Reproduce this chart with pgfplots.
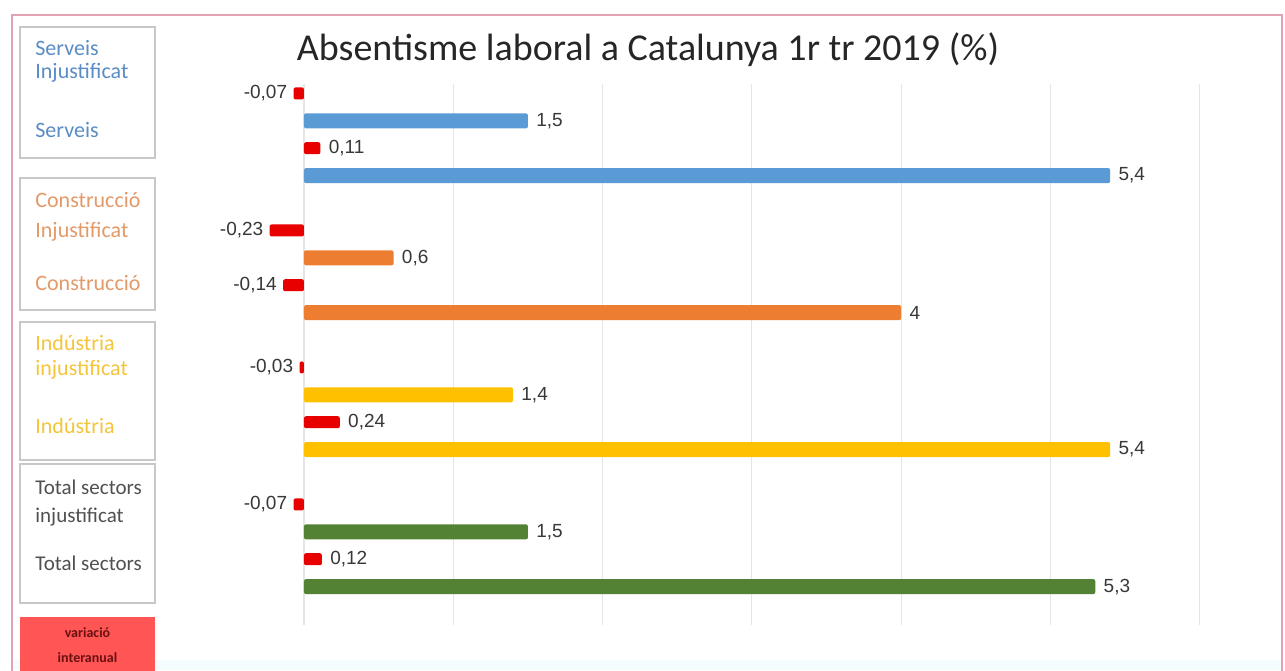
\documentclass[border=0pt]{standalone}
\usepackage{pgfplots}
\pgfplotsset{compat=1.18}
\usepackage{fontspec}
\setmainfont{Carlito}
\newfontfamily\labfont{Liberation Sans}
\definecolor{cblue}{HTML}{5B9BD5}
\definecolor{corange}{HTML}{ED7D31}
\definecolor{cyellow}{HTML}{FFC000}
\definecolor{cgreen}{HTML}{548235}
\definecolor{cred}{HTML}{E80000}
\definecolor{tblue}{HTML}{5A8CC6}
\definecolor{torange}{HTML}{E49A68}
\definecolor{tyellow}{HTML}{F4C53A}
\definecolor{tgrey}{HTML}{505050}
\definecolor{bpink}{HTML}{E3A3B2}
\definecolor{boxgrey}{HTML}{C8C8C8}
\definecolor{redbox}{HTML}{FF5555}
\definecolor{redtext}{HTML}{6A1010}
\begin{document}
\begin{tikzpicture}[x=1pt,y=1pt]
\useasboundingbox (0,0) rectangle (642.5,335);
\fill[white] (0,0) rectangle (642.5,335);
\fill[cyan!4] (6,0) rectangle (641,5);
\draw[bpink, line width=1.2pt] (6,-2) -- (6,327.5) -- (641,327.5) -- (641,-2);
% legend boxes
\draw[boxgrey, line width=0.6pt, fill=white] (10,321.5) rectangle (77.5,256);
\draw[boxgrey, line width=0.6pt, fill=white] (10,246) rectangle (77.5,180);
\draw[boxgrey, line width=0.6pt, fill=white] (10,174) rectangle (77.5,105);
\draw[boxgrey, line width=0.6pt, fill=white] (10,103) rectangle (77.5,33.5);
\fill[redbox] (10,26.5) rectangle (77.5,-2);
\begin{scope}[every node/.style={anchor=west, inner sep=0pt, font=\fontsize{11}{13}\selectfont}]
\node[text=tblue] at (17.5,311) {Serveis};
\node[text=tblue] at (17.5,298.5) {Injustificat};
\node[text=tblue] at (17.5,270) {Serveis};
\node[text=torange] at (17.5,235) {Construcció};
\node[text=torange] at (17.5,219) {Injustificat};
\node[text=torange] at (17.5,193.5) {Construcció};
\node[text=tyellow] at (17.5,163.5) {Indústria};
\node[text=tyellow] at (17.5,150) {injustificat};
\node[text=tyellow] at (17.5,122) {Indústria};
\node[text=tgrey, font=\fontsize{10.5}{13}\selectfont] at (17.5,91.5) {Total sectors};
\node[text=tgrey, font=\fontsize{10.5}{13}\selectfont] at (17.5,76.5) {injustificat};
\node[text=tgrey, font=\fontsize{10.5}{13}\selectfont] at (17.5,53.5) {Total sectors};
\end{scope}
\node[text=redtext, font=\bfseries\fontsize{7}{8}\selectfont] at (43.75,18.5) {variació};
\node[text=redtext, font=\bfseries\fontsize{7}{8}\selectfont] at (43.75,6) {interanual};
\node[text=black!85, font=\fontsize{19}{22}\selectfont] at (324,310) {Absentisme laboral a Catalunya 1r tr 2019 (\%)};
\begin{axis}[at={(107.2pt,22.5pt)}, anchor=south west, scale only axis,
  width=492.7pt, height=270.3pt,
  xmin=-0.6, xmax=6, ymin=-0.33, ymax=19.4, y dir=reverse,
  axis line style={draw=none},
  xtick={0,...,6}, xticklabels={}, ytick=\empty, major tick length=0pt,
  xmajorgrids, grid style={black!10, line width=0.6pt},
  clip=false, xbar, bar shift=0pt,
  nodes near coords, point meta=explicit symbolic,
  nodes near coords style={font=\labfont\fontsize{9.5}{11}\selectfont, text=black!78, inner xsep=4pt, anchor=west},
  every axis plot/.append style={draw=none, rounded corners=1pt}]
\addplot[fill=cred, bar width=6pt, nodes near coords style={anchor=east, inner xsep=3pt}] table[meta=l] {
x y l
-0.07 0 -0,07
-0.23 5 -0,23
-0.14 7 -0,14
-0.03 10 -0,03
-0.07 15 -0,07
};
\addplot[fill=cred, bar width=6pt] table[meta=l] {
x y l
0.11 2 0,11
0.24 12 0,24
0.12 17 0,12
};
\addplot[fill=cblue, bar width=7.5pt] table[meta=l] {
x y l
1.5 1 1,5
5.4 3 5,4
};
\addplot[fill=corange, bar width=7.5pt] table[meta=l] {
x y l
0.6 6 0,6
4 8 4
};
\addplot[fill=cyellow, bar width=7.5pt] table[meta=l] {
x y l
1.4 11 1,4
5.4 13 5,4
};
\addplot[fill=cgreen, bar width=7.5pt] table[meta=l] {
x y l
1.5 16 1,5
5.3 18 5,3
};
\end{axis}
\end{tikzpicture}
\end{document}
